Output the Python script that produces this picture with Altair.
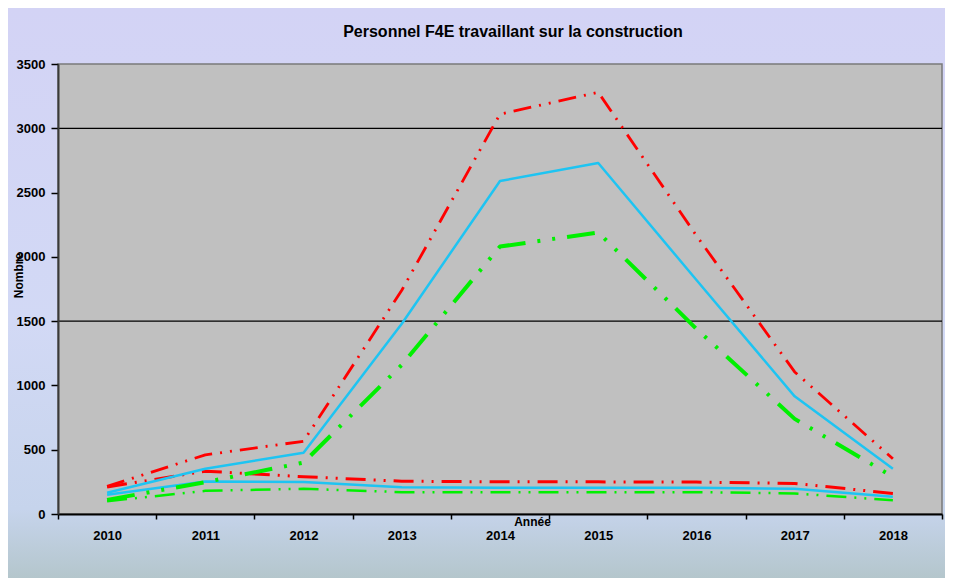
import altair as alt
import pandas as pd

years = ["2010", "2011", "2012", "2013", "2014", "2015", "2016", "2017", "2018"]

red_high = [215, 460, 566, 1740, 3110, 3280, 2165, 1105, 430]
cyan_high = [165, 352, 476, 1480, 2590, 2730, 1820, 915, 352]
green_high = [110, 248, 400, 1160, 2080, 2190, 1440, 740, 290]
red_low = [210, 333, 290, 255, 250, 250, 248, 238, 160]
cyan_low = [150, 252, 248, 208, 205, 205, 205, 196, 135]
green_low = [100, 180, 196, 170, 170, 170, 170, 160, 107]

grid_values = [1500, 3000]
y_ticks = [0, 500, 1000, 1500, 2000, 2500, 3000, 3500]
title_text = ["Personnel F4E travaillant sur la construction"]

series = {
    "red_high": red_high,
    "cyan_high": cyan_high,
    "green_high": green_high,
    "red_low": red_low,
    "cyan_low": cyan_low,
    "green_low": green_low,
}

rows = []
for name, vals in series.items():
    for y, v in zip(years, vals):
        rows.append({"series": name, "year": y, "value": v})
df = pd.DataFrame(rows)

W, H = 884, 450
PL, PT, PR, PB = 50, 56, 3, 64
FONT = "Liberation Sans"

x_enc = alt.X(
    "year:O",
    sort=years,
    scale=alt.Scale(type="band", paddingInner=0, paddingOuter=0),
    axis=alt.Axis(
        title="Année",
        titleFont=FONT, titleFontSize=12, titleFontWeight="bold", titleColor="black",
        titleX=474, titleY=7, titleBaseline="middle", titleAlign="center",
        labelFont=FONT, labelFontSize=13, labelFontWeight="bold", labelColor="black",
        labelAngle=0, labelPadding=10,
        tickBand="extent", tickSize=5, tickColor="black", tickWidth=1.5,
        domainColor="black", domainWidth=2, grid=False, zindex=2,
    ),
)

y_enc = alt.Y(
    "value:Q",
    scale=alt.Scale(domain=[0, 3500], nice=False),
    axis=alt.Axis(
        title="Nombre",
        titleFont=FONT, titleFontSize=12, titleFontWeight="bold", titleColor="black",
        titleX=-40, titleY=211, titleBaseline="middle", titleAlign="center",
        values=y_ticks, format="d",
        labelFont=FONT, labelFontSize=13, labelFontWeight="bold", labelColor="black",
        labelPadding=6, tickSize=7, tickColor="black", tickWidth=1.5,
        domainColor="#3a3a3a", domainWidth=2, grid=False, zindex=2,
    ),
)

base_rect = pd.DataFrame({"a": [0]})

bg = alt.Chart(base_rect).mark_rect(
    fill=alt.Gradient(
        gradient="linear",
        stops=[
            alt.GradientStop(color="#d3d3f5", offset=0),
            alt.GradientStop(color="#d2d9f5", offset=0.55),
            alt.GradientStop(color="#c6d4ec", offset=0.88),
            alt.GradientStop(color="#b4c6cc", offset=1),
        ],
        x1=0, x2=0, y1=0, y2=1,
    ),
    clip=False,
).encode(
    x=alt.value(-PL), x2=alt.value(W + PR),
    y=alt.value(-PT), y2=alt.value(H + PB),
)

plot_bg = alt.Chart(base_rect).mark_rect(
    fill="#c0c0c0", stroke="#7a7a7a", strokeWidth=1.5
).encode(
    x=alt.value(0), x2=alt.value(W), y=alt.value(0), y2=alt.value(H)
)

title = alt.Chart(pd.DataFrame({"t": title_text})).mark_text(
    font=FONT, fontSize=16, fontWeight="bold", color="black",
    align="center", baseline="middle",
).encode(text="t:N", x=alt.value(455), y=alt.value(-32))

grid = alt.Chart(pd.DataFrame({"value": grid_values})).mark_rule(
    color="black", strokeWidth=1.3
).encode(y=y_enc)

styles = {
    "red_low": dict(color="#ff0000", strokeWidth=3, strokeDash=[20, 8, 2, 8, 2, 8]),
    "green_low": dict(color="#00f000", strokeWidth=2.5, strokeDash=[20, 8, 2, 8, 2, 8]),
    "cyan_low": dict(color="#1ec4f2", strokeWidth=2.5),
    "green_high": dict(color="#00f000", strokeWidth=4, strokeDash=[28, 12, 3, 12, 3, 12]),
    "cyan_high": dict(color="#1ec4f2", strokeWidth=2.5),
    "red_high": dict(color="#ff0000", strokeWidth=2.8, strokeDash=[18, 8, 2, 8, 2, 8]),
}

line_layers = []
for name, st in styles.items():
    line_layers.append(
        alt.Chart(df)
        .transform_filter(alt.datum.series == name)
        .mark_line(strokeCap="butt", strokeJoin="round", **st)
        .encode(x=x_enc, y=y_enc, order=alt.Order("year:O"))
    )

chart = alt.layer(bg, plot_bg, title, grid, *line_layers).properties(
    width=W,
    height=H,
    autosize=alt.AutoSizeParams(type="none"),
    padding={"left": PL, "top": PT, "right": PR, "bottom": PB},
).configure_view(stroke=None, fill=None).configure(background="#d3d5f4")

chart.save("out.html", embed_options={"renderer": "svg", "actions": False})
